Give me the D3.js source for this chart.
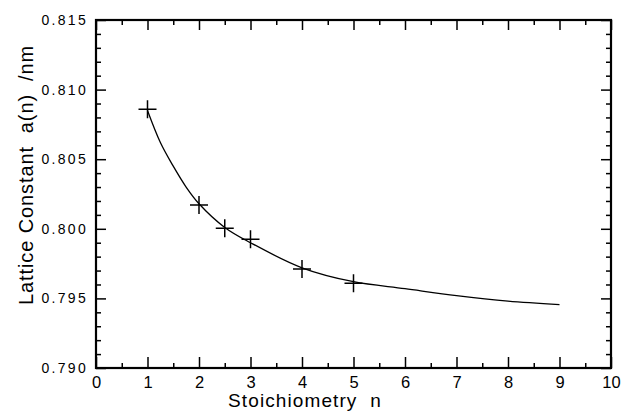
<!DOCTYPE html>
<html>
<head>
<meta charset="utf-8">
<script src="https://cdnjs.cloudflare.com/ajax/libs/d3/7.8.5/d3.min.js"></script>
<style>
body { margin: 0; background: #fff; }
svg text { font-family: "Liberation Sans", Arial, sans-serif; fill: #000; white-space: pre; }
</style>
</head>
<body>
<svg id="chart" width="626" height="414"></svg>
<script>
// measured points
var pointN = [1, 2, 2.5, 3, 4, 5];
var pointA = [0.80858, 0.80171, 0.80004, 0.79925, 0.79711, 0.79609];

// fitted curve
var curveN = [1, 1.25, 1.5, 1.75, 2, 2.5, 3, 4, 5, 6, 7, 8, 9];
var curveA = [0.8085, 0.8062, 0.8045, 0.8030, 0.8018, 0.8001, 0.7990, 0.7972, 0.7962, 0.7957, 0.7952, 0.7948, 0.79455];

var xTickVals = [0, 1, 2, 3, 4, 5, 6, 7, 8, 9, 10];
var yTickVals = [0.790, 0.795, 0.800, 0.805, 0.810, 0.815];
var xLabel = "Stoichiometry  n";
var yLabel = "Lattice Constant  a(n)  /nm";

var svg = d3.select("#chart");
var pLeft = 96, pRight = 611, pTop = 20, pBottom = 368;

var x = d3.scaleLinear().domain([0, 10]).range([pLeft, pRight]);
var y = d3.scaleLinear().domain([0.790, 0.815]).range([pBottom, pTop]);

var xMinor = d3.range(0.5, 10, 1);
var yMinor = d3.range(0, 26).map(function(d){return 0.790 + d * 0.001;})
    .filter(function(d){return Math.abs(Math.round(d * 200) - d * 200) > 0.01;});

function plain(g){
    g.select(".domain").remove();
    g.selectAll("line").attr("stroke-width", 1.5);
}

// bottom axis, ticks pointing inward
svg.append("g")
    .attr("transform", "translate(0," + pBottom + ")")
    .call(d3.axisBottom(x).tickValues(xTickVals).tickSize(-11).tickFormat(d3.format("d")))
    .call(plain)
    .call(function(g){
	g.selectAll("text").attr("font-size", 16.5).attr("y", 8).attr("dy", "0.72em");
    });
svg.append("g")
    .attr("transform", "translate(0," + pBottom + ")")
    .call(d3.axisBottom(x).tickValues(xMinor).tickSize(-5).tickFormat(""))
    .call(plain);

// top axis
svg.append("g")
    .attr("transform", "translate(0," + pTop + ")")
    .call(d3.axisTop(x).tickValues(xTickVals).tickSize(-10).tickFormat(""))
    .call(plain);
svg.append("g")
    .attr("transform", "translate(0," + pTop + ")")
    .call(d3.axisTop(x).tickValues(xMinor).tickSize(-5).tickFormat(""))
    .call(plain);

// left axis
svg.append("g")
    .attr("transform", "translate(" + pLeft + ",0)")
    .call(d3.axisLeft(y).tickValues(yTickVals).tickSize(-10).tickFormat(d3.format(".3f")))
    .call(plain)
    .call(function(g){
	g.selectAll("text").attr("font-size", 14).attr("letter-spacing", 2.3).attr("x", -8);
    });
svg.append("g")
    .attr("transform", "translate(" + pLeft + ",0)")
    .call(d3.axisLeft(y).tickValues(yMinor).tickSize(-5).tickFormat(""))
    .call(plain);

// right axis
svg.append("g")
    .attr("transform", "translate(" + pRight + ",0)")
    .call(d3.axisRight(y).tickValues(yTickVals).tickSize(-10).tickFormat(""))
    .call(plain);
svg.append("g")
    .attr("transform", "translate(" + pRight + ",0)")
    .call(d3.axisRight(y).tickValues(yMinor).tickSize(-5).tickFormat(""))
    .call(plain);

// frame
svg.append("rect")
    .attr("x", pLeft)
    .attr("y", pTop)
    .attr("width", pRight - pLeft)
    .attr("height", pBottom - pTop)
    .attr("fill", "none")
    .attr("stroke", "#000")
    .attr("stroke-width", 2.2);

// fit curve
var line = d3.line()
    .x(function(d){return x(d[0]);})
    .y(function(d){return y(d[1]);})
    .curve(d3.curveCatmullRom.alpha(0.5));

svg.append("path")
    .datum(d3.zip(curveN, curveA))
    .attr("d", line)
    .attr("fill", "none")
    .attr("stroke", "#000")
    .attr("stroke-width", 1.3);

// crosses
svg.append("g").selectAll("path")
    .data(d3.zip(pointN, pointA))
    .join("path")
    .attr("d", function(d){
	var cx = x(d[0]), cy = y(d[1]), s = 9;
	return "M" + (cx - s) + "," + cy + "H" + (cx + s) + "M" + cx + "," + (cy - s) + "V" + (cy + s);
    })
    .attr("stroke", "#000")
    .attr("stroke-width", 1.5);

// axis titles
svg.append("text")
    .attr("x", 305)
    .attr("y", 407)
    .attr("text-anchor", "middle")
    .attr("font-size", 19)
    .attr("letter-spacing", 1.1)
    .text(xLabel);

svg.append("text")
    .attr("transform", "translate(33,305) rotate(-90)")
    .attr("font-size", 20)
    .attr("letter-spacing", 0.9)
    .text(yLabel);
</script>
</body>
</html>
